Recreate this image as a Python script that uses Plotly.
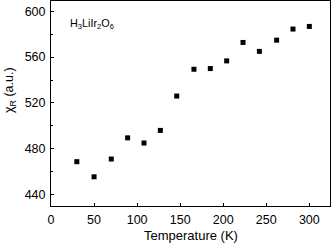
import plotly.graph_objects as go

temperature = [30, 50, 70, 89, 108, 127, 146, 166, 185, 204, 223, 242, 262, 281, 300]
chi_r = [468.7, 455.5, 471, 489.5, 485, 496, 526, 549.4, 550, 556.7, 572.8, 565, 574.8, 584.5, 586.8]

x_ticks = [0, 50, 100, 150, 200, 250, 300]
y_ticks = [440, 480, 520, 560, 600]

FONT = "Liberation Sans, Arial, sans-serif"

fig = go.Figure()
fig.add_trace(go.Scatter(
    x=temperature, y=chi_r, mode="markers",
    marker=dict(symbol="square", size=5, color="black", line=dict(width=0)),
    showlegend=False,
))

axis_common = dict(
    showline=True, linecolor="black", linewidth=1, mirror=True,
    showgrid=False, zeroline=False,
    ticks="inside", ticklen=3, tickwidth=1, tickcolor="black",
    tickfont=dict(family=FONT, size=12.5, color="black"),
    minor=dict(ticks="inside", ticklen=2, tickwidth=1, tickcolor="black", nticks=2, showgrid=False),
)

fig.update_xaxes(range=[0, 324], tickvals=x_ticks, ticklabelstandoff=2, **axis_common)
fig.update_yaxes(range=[430, 609], tickvals=y_ticks, ticklabelstandoff=2, **axis_common)

fig.update_layout(
    width=332, height=244,
    margin=dict(l=51, r=2, t=1, b=38),
    paper_bgcolor="white", plot_bgcolor="white",
    font=dict(family=FONT, color="black"),
    annotations=[
        dict(text="H<sub>3</sub>LiIr<sub>2</sub>O<sub>6</sub>", xref="paper", yref="paper",
             x=0.06, y=0.89, xanchor="left", yanchor="middle", showarrow=False,
             font=dict(family=FONT, size=10.8, color="black")),
        dict(text="Temperature (K)", xref="paper", yref="paper",
             x=0.502, y=-0.146, xanchor="center", yanchor="middle", showarrow=False,
             font=dict(family=FONT, size=13, color="black")),
        dict(text="χ<sub>R</sub> (a.u.)", xref="paper", yref="paper",
             x=-0.147, y=0.566, xanchor="center", yanchor="middle", textangle=-90, showarrow=False,
             font=dict(family=FONT, size=12.5, color="black")),
    ],
)

fig.write_html("out.html", config={"displayModeBar": False},
               post_script="document.body.style.margin='0';")
